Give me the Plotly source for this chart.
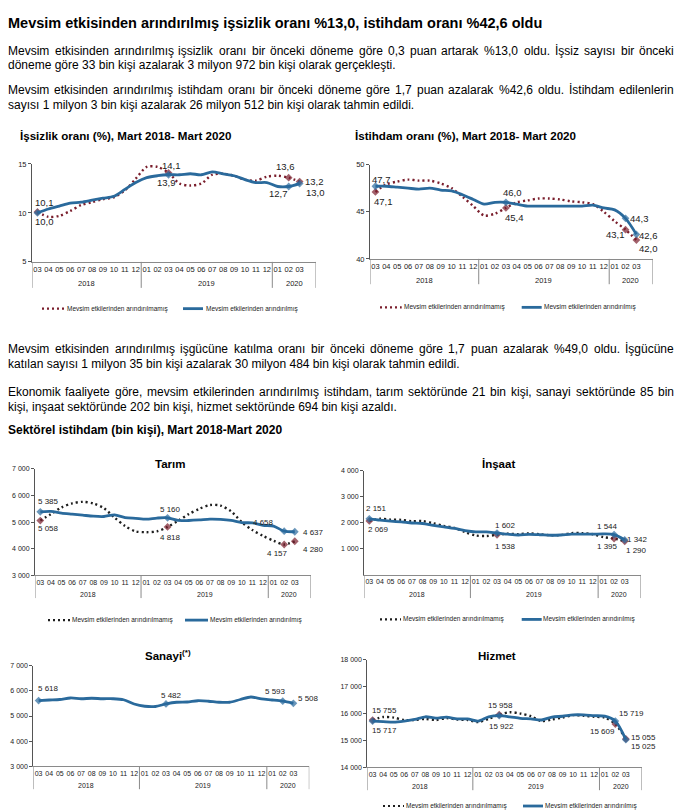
import plotly.graph_objects as go

PAGE_W, PAGE_H = 683, 812
OFF = 8  # browser body margin
W, H = PAGE_W - OFF, PAGE_H - OFF
FONT = "Liberation Sans, Arial, sans-serif"

# ---------------- data ----------------
months = ["03", "04", "05", "06", "07", "08", "09", "10", "11", "12",
          "01", "02", "03", "04", "05", "06", "07", "08", "09", "10", "11", "12",
          "01", "02", "03"]
years = ["2018", "2019", "2020"]
year_bounds = [-0.5, 9.5, 21.5, 25.5]

unemp_unadj = [10.1, 9.6, 9.7, 10.2, 10.8, 11.1, 11.4, 11.6, 12.3, 13.5,
               14.7, 14.7, 14.1, 13.0, 12.8, 13.0, 13.9, 14.0, 13.8, 13.4, 13.3, 13.7,
               13.8, 13.6, 13.2]
unemp_adj = [10.0, 10.4, 10.7, 11.0, 11.1, 11.3, 11.5, 11.7, 12.4, 13.1,
             13.6, 13.8, 13.9, 13.9, 14.0, 13.9, 14.2, 14.0, 13.8, 13.4, 13.1, 13.1,
             12.7, 12.7, 13.0]

emp_unadj = [47.1, 47.9, 48.2, 48.4, 48.3, 48.3, 48.0, 47.5, 46.6, 45.6,
             44.6, 44.8, 45.4, 46.0, 46.2, 46.4, 46.4, 46.3, 46.1, 46.0, 45.8, 45.0,
             44.0, 43.1, 42.0]
emp_adj = [47.7, 47.7, 47.6, 47.5, 47.4, 47.5, 47.3, 47.2, 46.8, 46.3,
           45.8, 46.0, 46.0, 45.8, 45.6, 45.6, 45.6, 45.6, 45.6, 45.6, 45.7, 45.4,
           45.2, 44.3, 42.6]

tarim_unadj = [5058, 5300, 5550, 5700, 5760, 5700, 5520, 5170, 4850, 4650,
               4620, 4650, 4818, 5050, 5300, 5500, 5640, 5620, 5400, 5000, 4700, 4480,
               4300, 4157, 4280]
tarim_adj = [5385, 5400, 5340, 5300, 5260, 5220, 5210, 5270, 5170, 5140,
             5110, 5150, 5160, 5060, 5060, 5080, 5110, 5100, 5060, 4980, 4970, 4880,
             4850, 4658, 4637]

insaat_unadj = [2069, 2150, 2120, 2110, 2060, 2060, 1980, 1880, 1800, 1640,
                1510, 1490, 1538, 1580, 1560, 1590, 1560, 1520, 1530, 1600, 1600, 1560,
                1450, 1395, 1290]
insaat_adj = [2151, 2100, 2060, 2030, 1990, 1970, 1900, 1840, 1780, 1700,
              1650, 1650, 1602, 1560, 1530, 1550, 1540, 1520, 1530, 1560, 1560, 1560,
              1570, 1544, 1342]

sanayi_adj = [5618, 5640, 5660, 5720, 5690, 5710, 5690, 5690, 5650, 5480,
              5390, 5380, 5482, 5550, 5560, 5610, 5590, 5550, 5550, 5660, 5760, 5680,
              5640, 5593, 5508]

hizmet_unadj = [15755, 15870, 15850, 15760, 15760, 15800, 15760, 15830, 15780, 15760,
                15680, 15800, 15958, 16050, 16000, 15900, 15720, 15780, 15850, 15940, 15920, 15880,
                15850, 15609, 15055]
hizmet_adj = [15717, 15700, 15680, 15720, 15780, 15880, 15830, 15870, 15800, 15800,
              15720, 15880, 15922, 15880, 15820, 15800, 15760, 15870, 15900, 15950, 15950, 15920,
              15900, 15719, 15025]

# ---------------- text ----------------
title_text = "Mevsim etkisinden arındırılmış işsizlik oranı %13,0, istihdam oranı %42,6 oldu"
para_lines = [
    ("Mevsim etkisinden arındırılmış işsizlik oranı bir önceki döneme göre 0,3 puan artarak %13,0 oldu. İşsiz sayısı bir önceki", 47, True),
    ("döneme göre 33 bin kişi azalarak 3 milyon 972 bin kişi olarak gerçekleşti.", 62, False),
    ("Mevsim etkisinden arındırılmış istihdam oranı bir önceki döneme göre 1,7 puan azalarak %42,6 oldu. İstihdam edilenlerin", 87, True),
    ("sayısı 1 milyon 3 bin kişi azalarak 26 milyon 512 bin kişi olarak tahmin edildi.", 102, False),
    ("Mevsim etkisinden arındırılmış işgücüne katılma oranı bir önceki döneme göre 1,7 puan azalarak %49,0 oldu. İşgücüne", 349, True),
    ("katılan sayısı 1 milyon 35 bin kişi azalarak 30 milyon 484 bin kişi olarak tahmin edildi.", 364, False),
    ("Ekonomik faaliyete göre, mevsim etkilerinden arındırılmış istihdam, tarım sektöründe 21 bin kişi, sanayi sektöründe 85 bin", 392, True),
    ("kişi, inşaat sektöründe 202 bin kişi, hizmet sektöründe 694 bin kişi azaldı.", 407, False),
]
legend_unadj = "Mevsim etkilerinden arındırılmamış"
legend_adj = "Mevsim etkilerinden arındırılmış"

BLUE = "#2A6A9C"
RED = "#7A1E2C"
DARK = "#1E1E1E"

# Arial / Liberation Sans regular advance widths (per 1000 em)
REG = {' ': 278, '%': 889, ',': 278, '.': 278, 'E': 667, 'İ': 278, 'I': 278, 'M': 833,
       'a': 556, 'b': 556, 'c': 500, 'ç': 500, 'd': 556, 'e': 556, 'f': 278, 'g': 556,
       'ğ': 556, 'h': 556, 'i': 222, 'ı': 278, 'j': 222, 'k': 500, 'l': 222, 'm': 833,
       'n': 556, 'o': 556, 'ö': 556, 'p': 556, 'r': 333, 's': 500, 'ş': 500, 't': 278,
       'u': 556, 'ü': 556, 'v': 500, 'y': 500, 'z': 500}


def tw(s, size):
    return sum(REG.get(c, 556) for c in s) * size / 1000.0


def px(x):
    return (x - OFF) / W


def py(y):
    return 1 - (y - OFF) / H


annotations = []
shapes = []


def add_text(text, x, y, size, bold=False, color="#000", xanchor="left"):
    annotations.append(dict(
        text=("<b>%s</b>" % text) if bold else text, x=px(x), y=py(y),
        xref="paper", yref="paper", xanchor=xanchor, yanchor="middle",
        showarrow=False, borderpad=0, borderwidth=0,
        font=dict(family=FONT, size=size, color=color)))


BODY = 12
LEFT, RIGHT = 8, 674
add_text(title_text, LEFT, 19, 14.5, bold=True)
for line, yy, justify in para_lines:
    if not justify:
        add_text(line, LEFT, yy, BODY)
        continue
    words = line.split(" ")
    widths = [tw(w, BODY) for w in words]
    gap = (RIGHT - LEFT - sum(widths)) / (len(words) - 1)
    xx = LEFT
    for k, (w, wd) in enumerate(zip(words, widths)):
        if k == 0:
            add_text(w, LEFT, yy, BODY, xanchor="left")
        elif k == len(words) - 1:
            add_text(w, RIGHT, yy, BODY, xanchor="right")
        else:
            add_text(w, xx + wd / 2, yy, BODY, xanchor="center")
        xx += wd + gap

add_text("İşsizlik oranı (%), Mart 2018- Mart 2020", 20, 133, 11.6, bold=True)
add_text("İstihdam oranı (%), Mart 2018- Mart 2020", 355, 133, 11.6, bold=True)
add_text("Sektörel istihdam (bin kişi), Mart 2018-Mart 2020", LEFT, 431, 12, bold=True)


def fmt_dec(v):
    return ("%.1f" % v).replace(".", ",")


def fmt_int(v):
    return "%d" % v


def fmt_thou(v):
    return "{:,}".format(int(v)).replace(",", " ")


panels = [
    dict(x0=32, x1=316, yt=161.7, yb=260.7, yrange=[5, 15], yticks=[5, 10, 15],
         fmt=fmt_dec, yfmt=fmt_int,
         unadj=unemp_unadj, adj=unemp_adj, dotcol=RED, lab=9.5, tick=7.5,
         labels=[('u', 0, 7, -9), ('a', 0, 7, 9), ('u', 12, 3, -7), ('a', 12, -2, 8),
                 ('u', 23, -3, -11), ('a', 23, -10, 7), ('u', 24, 15, 0), ('a', 24, 16, 9)],
         mon_y=268, year_y=283, sep_b=287, leg_y=308, leg=(42, 65, 67, 183, 203, 206),
         title=None),
    dict(x0=370, x1=652.7, yt=162.3, yb=257.7, yrange=[40, 50], yticks=[40, 45, 50],
         fmt=fmt_dec, yfmt=fmt_int,
         unadj=emp_unadj, adj=emp_adj, dotcol=RED, lab=9.5, tick=7.5,
         labels=[('a', 0, 6, -7), ('u', 0, 8, 10), ('a', 12, 7, -10), ('u', 12, 9, 10),
                 ('a', 23, 14, 0), ('u', 23, -10, 5), ('a', 24, 12, 1), ('u', 24, 12, 8)],
         mon_y=265.7, year_y=279.3, sep_b=283.3, leg_y=306.7, leg=(380, 401.7, 404, 521.7, 541.7, 544),
         title=None),
    dict(x0=35, x1=310.7, yt=470, yb=577.7, yrange=[3000, 7000],
         yticks=[3000, 4000, 5000, 6000, 7000], fmt=fmt_thou, yfmt=fmt_thou,
         unadj=tarim_unadj, adj=tarim_adj, dotcol=DARK, lab=8, tick=7,
         labels=[('a', 0, 8, -10), ('u', 0, 8, 8), ('a', 12, 3, -8), ('u', 12, 3, 11),
                 ('a', 23, -21, -9), ('u', 23, -7, 9), ('a', 24, 19, 1), ('u', 24, 19, 8)],
         mon_y=585.7, year_y=597, sep_b=600.7, leg_y=623, leg=(48, 70, 72, 185, 208, 210),
         title=("Tarım", 170, 465)),
    dict(x0=364, x1=640.7, yt=471.7, yb=577.3, yrange=[0, 4000],
         yticks=[1000, 2000, 3000, 4000], fmt=fmt_thou, yfmt=fmt_thou,
         unadj=insaat_unadj, adj=insaat_adj, dotcol=DARK, lab=8, tick=7,
         labels=[('a', 0, 7, -10), ('u', 0, 9, 9), ('a', 12, 8, -8), ('u', 12, 8, 12),
                 ('a', 23, -7, -8), ('u', 23, -7, 8), ('a', 24, 13, 0), ('u', 24, 12, 9)],
         mon_y=585.7, year_y=597.3, sep_b=600.7, leg_y=622.3, leg=(380, 401, 403, 521.7, 541.7, 543),
         title=("İnşaat", 498, 465)),
    dict(x0=33.3, x1=309.3, yt=669.3, yb=770.7, yrange=[3000, 7000],
         yticks=[3000, 4000, 5000, 6000, 7000], fmt=fmt_thou, yfmt=fmt_thou,
         unadj=None, adj=sanayi_adj, dotcol=DARK, lab=8, tick=7,
         labels=[('a', 0, 10, -12), ('a', 12, 6, -8), ('a', 23, -7, -10), ('a', 24, 15, -5)],
         mon_y=778.3, year_y=790.7, sep_b=794, leg_y=None, leg=None,
         title=("Sanayi<sup>(*)</sup>", 168, 658)),
    dict(x0=367.3, x1=641.7, yt=663.3, yb=771.7, yrange=[14000, 18000],
         yticks=[14000, 15000, 16000, 17000, 18000], fmt=fmt_thou, yfmt=fmt_thou,
         unadj=hizmet_unadj, adj=hizmet_adj, dotcol=DARK, lab=8, tick=7,
         labels=[('u', 0, 12, -10), ('a', 0, 12, 9), ('u', 12, 1, -9), ('a', 12, 2, 11),
                 ('a', 23, 16, -8), ('u', 23, -13, 7), ('u', 24, 18, -1), ('a', 24, 18, 7)],
         mon_y=779.3, year_y=791.7, sep_b=795, leg_y=811, leg=(383, 404, 406, 523, 543, 545),
         title=("Hizmet", 497, 659)),
]

fig = go.Figure()
layout_axes = {}
label_idx = [0, 12, 23, 24]

for n, p in enumerate(panels, start=1):
    xa = "x" if n == 1 else "x%d" % n
    ya = "y" if n == 1 else "y%d" % n
    xkey = "xaxis" if n == 1 else "xaxis%d" % n
    ykey = "yaxis" if n == 1 else "yaxis%d" % n
    xs = list(range(len(months)))
    msize = [6 if i in label_idx else 0 for i in xs]

    if p["unadj"] is not None:
        fig.add_trace(go.Scatter(
            x=xs, y=p["unadj"], mode="lines+markers", xaxis=xa, yaxis=ya,
            line=dict(color=p["dotcol"], width=2.4, dash="2px,3px", shape="spline", smoothing=0.8),
            marker=dict(symbol="diamond", size=msize, color=RED, line=dict(width=0)),
            showlegend=False, hoverinfo="skip"))
    fig.add_trace(go.Scatter(
        x=xs, y=p["adj"], mode="lines+markers", xaxis=xa, yaxis=ya,
        line=dict(color=BLUE, width=2.8, shape="spline", smoothing=0.8),
        marker=dict(symbol="diamond", size=msize, color=BLUE, line=dict(width=0)),
        showlegend=False, hoverinfo="skip"))

    layout_axes[xkey] = dict(
        domain=[px(p["x0"]), px(p["x1"])], range=[-0.5, 25.5], anchor=ya,
        tickvals=xs, ticktext=months, ticks="", showgrid=False, zeroline=False,
        showline=True, linecolor="#8A8A8A", linewidth=1,
        tickfont=dict(family=FONT, size=p["tick"], color="#222"), fixedrange=True)
    layout_axes[ykey] = dict(
        domain=[py(p["yb"]), py(p["yt"])], range=p["yrange"], anchor=xa,
        tickvals=p["yticks"], ticktext=[p["yfmt"](v) for v in p["yticks"]],
        ticks="outside", ticklen=3, tickcolor="#555",
        showgrid=False, zeroline=False, showline=True, linecolor="#555", linewidth=1,
        tickfont=dict(family=FONT, size=p["tick"], color="#222"), fixedrange=True)

    # year separators and labels
    for b in year_bounds:
        shapes.append(dict(type="line", xref=xa, yref="paper", x0=b, x1=b,
                           y0=py(p["yb"]), y1=py(p["sep_b"]),
                           line=dict(color="#8A8A8A", width=1)))
    for k, yr in enumerate(years):
        annotations.append(dict(
            text=yr, x=(year_bounds[k] + year_bounds[k + 1]) / 2, y=py(p["year_y"]),
            xref=xa, yref="paper", xanchor="center", yanchor="middle", showarrow=False,
            font=dict(family=FONT, size=p["tick"], color="#222")))

    # data labels
    for s, i, dx, dy in p["labels"]:
        arr = p["unadj"] if s == "u" else p["adj"]
        annotations.append(dict(
            text=p["fmt"](arr[i]), x=i, y=arr[i], xref=xa, yref=ya,
            xanchor="center", yanchor="middle", xshift=dx, yshift=-dy, showarrow=False,
            font=dict(family=FONT, size=p["lab"], color="#222")))

    # legend
    if p["leg"] is not None:
        lx0, lx1, ltx, sx0, sx1, stx = p["leg"]
        ly = p["leg_y"]
        shapes.append(dict(type="line", xref="paper", yref="paper", x0=px(lx0), x1=px(lx1),
                           y0=py(ly), y1=py(ly),
                           line=dict(color=p["dotcol"], width=2.2, dash="2px,3px")))
        shapes.append(dict(type="line", xref="paper", yref="paper", x0=px(sx0), x1=px(sx1),
                           y0=py(ly), y1=py(ly), line=dict(color=BLUE, width=2.8)))
        add_text(legend_unadj, ltx, ly, 6.5, color="#222")
        add_text(legend_adj, stx, ly, 6.5, color="#222")

    if p["title"] is not None:
        t, tx, tyy = p["title"]
        add_text(t, tx, tyy, 11.5, bold=True, xanchor="center")

fig.update_layout(
    width=W, height=H, autosize=False,
    margin=dict(l=0, r=0, t=0, b=0),
    paper_bgcolor="white", plot_bgcolor="white",
    annotations=annotations, shapes=shapes,
    font=dict(family=FONT),
    **layout_axes)

fig.write_html("out.html")
